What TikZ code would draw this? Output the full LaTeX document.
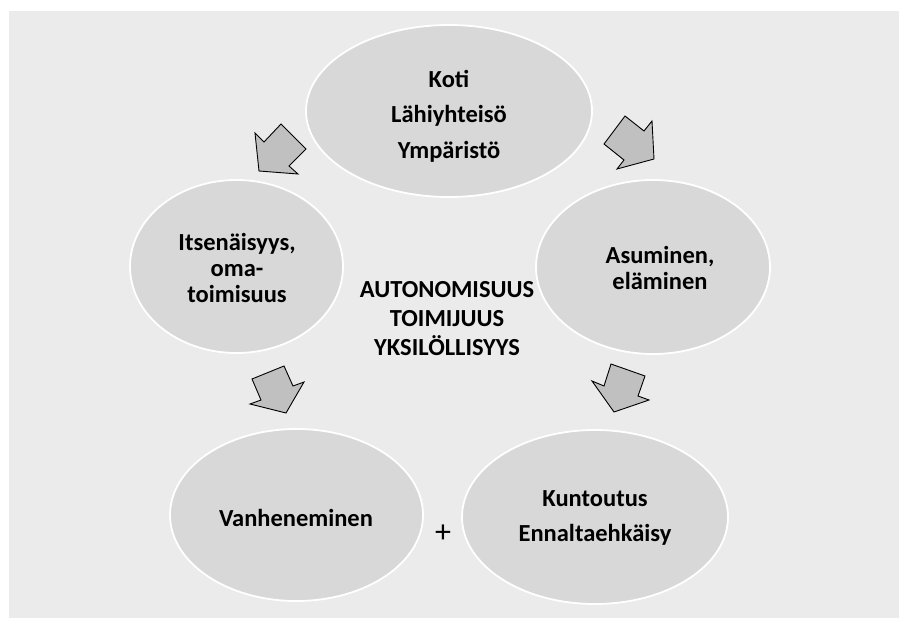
\documentclass[tikz,border=0pt]{standalone}
\usepackage{fontspec}
\setmainfont{Carlito}
\usetikzlibrary{shapes.geometric}
\definecolor{panelgray}{HTML}{EBEBEB}
\definecolor{blobgray}{HTML}{D8D8D8}
\definecolor{arrowgray}{HTML}{C0C0C0}
\tikzset{
  blob/.style={ellipse, fill=blobgray, draw=white, line width=1.8pt, inner sep=0pt},
  words/.style={align=center, font=\bfseries\fontsize{24.5}{26}\selectfont, text=black},
  wordswide/.style={words, font=\bfseries\fontsize{24.5}{35.5}\selectfont},
  blockarrow/.style={fill=arrowgray, draw=black, line width=0.9pt, line join=miter}
}
\begin{document}
\begin{tikzpicture}[x=1pt,y=-1pt]
  \useasboundingbox (0,0) rectangle (899,618);
  \fill[white] (0,0) rectangle (899,618);
  \fill[panelgray] (9,11) rectangle (899,618);

  % ellipses
  \node[blob, minimum width=286pt, minimum height=172pt] (home) at (449,111) {};
  \node[blob, minimum width=213pt, minimum height=173pt] (self) at (236.5,266.5) {};
  \node[blob, minimum width=234pt, minimum height=174pt] (living) at (653,267) {};
  \node[blob, minimum width=253pt, minimum height=172pt] (ageing) at (296.5,515) {};
  \node[blob, minimum width=266pt, minimum height=174pt] (rehab) at (595,517) {};

  % texts
  \node[wordswide] (hometext) at (449,116) {Koti\\Lähiyhteisö\\Ympäristö};
  \node[words] (selftext) at (237,268) {Itsenäisyys,\\oma-\\toimisuus};
  \node[words] (livingtext) at (660,268) {Asuminen,\\eläminen};
  \node[words, font=\bfseries\fontsize{24.5}{29}\selectfont] (coretext) at (447,319) {AUTONOMISUUS\\TOIMIJUUS\\YKSILÖLLISYYS};
  \node[words] (ageingtext) at (296,518) {Vanheneminen};
  \node[wordswide] (rehabtext) at (595,518) {Kuntoutus\\Ennaltaehkäisy};
  \node[font=\fontsize{32}{34}\selectfont] (plus) at (443,534) {+};

  % block arrows
  \draw[blockarrow] (281,124) -- (306,149) -- (289,166) -- (298,174) -- (259,171) -- (255,133) -- (264,142) -- cycle;
  \draw[blockarrow] (604,144) -- (625,116) -- (644,131) -- (652,121) -- (654,159) -- (617,169) -- (624,160) -- cycle;
  \draw[blockarrow] (252,379) -- (284,366) -- (293,386) -- (304,382) -- (286,413) -- (250,404) -- (261,400) -- cycle;
  \draw[blockarrow] (611,364) -- (645,376) -- (638,396) -- (649,400) -- (614,412) -- (592,381) -- (604,386) -- cycle;
\end{tikzpicture}
\end{document}
